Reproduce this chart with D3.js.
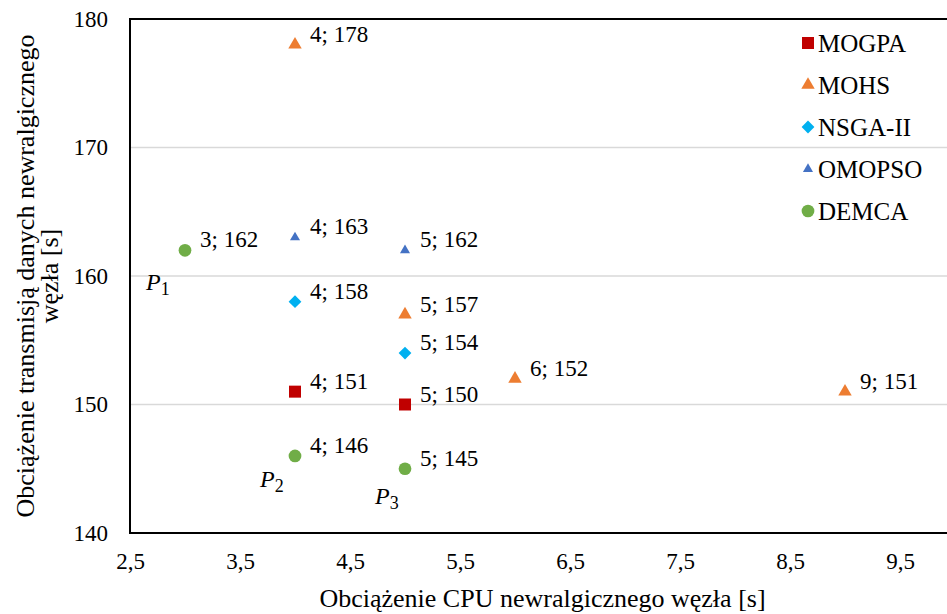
<!DOCTYPE html>
<html>
<head>
<meta charset="utf-8">
<script src="https://d3js.org/d3.v7.min.js"></script>
<style>
  body { margin: 0; background: #fff; }
  svg text { font-family: "Liberation Serif", "Times New Roman", serif !important; fill: #000; }
</style>
</head>
<body>
<div id="chart"></div>
<script>
// Data: [CPU load, transmission load]
const seriesNames = ["MOGPA", "MOHS", "NSGA-II", "OMOPSO", "DEMCA"];
const mogpa = [[4, 151], [5, 150]];
const mohs = [[4, 178], [5, 157], [6, 152], [9, 151]];
const nsga = [[4, 158], [5, 154]];
const omopso = [[4, 163], [5, 162]];
const demca = [[3, 162], [4, 146], [5, 145]];
const xTicks = [2.5, 3.5, 4.5, 5.5, 6.5, 7.5, 8.5, 9.5];
const yTicks = [140, 150, 160, 170, 180];
const pointNames = ["1", "2", "3"]; // P1..P3 mark the DEMCA points

const width = 947, height = 614;
const margin = { top: 19, right: -8, bottom: 80, left: 130 };

const svg = d3.select("#chart").append("svg")
    .attr("width", width)
    .attr("height", height);

const x = d3.scaleLinear().domain([2.5, 10]).range([margin.left, width - margin.right]);
const y = d3.scaleLinear().domain([140, 180]).range([height - margin.bottom - 1, margin.top]);

// gridlines
svg.append("g")
    .selectAll("line")
    .data(yTicks.slice(1, -1))
    .enter()
    .append("line")
    .attr("x1", x(2.5))
    .attr("x2", x(10))
    .attr("y1", d => y(d))
    .attr("y2", d => y(d))
    .attr("stroke", "#d9d9d9")
    .attr("stroke-width", 1.5);

// frame
svg.append("rect")
    .attr("x", x(2.5))
    .attr("y", y(180))
    .attr("width", x(10) - x(2.5))
    .attr("height", y(140) - y(180))
    .attr("fill", "none")
    .attr("stroke", "#000")
    .attr("stroke-width", 2);

const fontSize = 23;
const titleSize = 26;
const legendSize = 25;

// axes labels (no tick marks)
const xAxis = d3.axisBottom(x).tickValues(xTicks).tickSize(0).tickPadding(20)
    .tickFormat(d => String(d).replace(".", ","));
svg.append("g")
    .attr("transform", `translate(0, ${y(140)})`)
    .call(xAxis)
    .call(g => g.select(".domain").remove())
    .selectAll("text")
    .attr("font-size", fontSize);

const yAxis = d3.axisLeft(y).tickValues(yTicks).tickSize(0).tickPadding(22);
svg.append("g")
    .attr("transform", `translate(${x(2.5)}, 0)`)
    .call(yAxis)
    .call(g => g.select(".domain").remove())
    .selectAll("text")
    .attr("font-size", fontSize);

// axis titles
svg.append("text")
    .attr("x", (x(2.5) + x(10)) / 2)
    .attr("y", 607)
    .attr("text-anchor", "middle")
    .attr("font-size", titleSize)
    .text("Obciążenie CPU newralgicznego węzła [s]");

const yTitle = svg.append("text")
    .attr("transform", `translate(0, ${(y(140) + y(180)) / 2}) rotate(-90)`)
    .attr("text-anchor", "middle")
    .attr("font-size", titleSize);
yTitle.append("tspan").attr("x", 0).attr("y", 34).text("Obciążenie transmisją danych newralgicznego");
yTitle.append("tspan").attr("x", 0).attr("y", 58).text("węzła [s]");

// marker styles
const styles = {
    "MOGPA": { color: "#c00000", symbol: d3.symbolSquare, size: 144, rotate: 0 },
    "MOHS": { color: "#ed7d31", symbol: d3.symbolTriangle, size: 78, rotate: 0 },
    "NSGA-II": { color: "#00b0f0", symbol: d3.symbolSquare, size: 82, rotate: 45 },
    "OMOPSO": { color: "#4472c4", symbol: d3.symbolTriangle, size: 44, rotate: 0 },
    "DEMCA": { color: "#70ad47", symbol: d3.symbolCircle, size: 127, rotate: 0 }
};
const seriesData = [mogpa, mohs, nsga, omopso, demca];

seriesNames.forEach((name, i) => {
    const st = styles[name];
    const g = svg.append("g").attr("class", "series");
    g.selectAll("path")
        .data(seriesData[i])
        .enter()
        .append("path")
        .attr("d", d3.symbol().type(st.symbol).size(st.size))
        .attr("transform", d => `translate(${x(d[0])}, ${y(d[1])}) rotate(${st.rotate})`)
        .attr("fill", st.color);

    g.selectAll("text")
        .data(seriesData[i])
        .enter()
        .append("text")
        .attr("x", d => x(d[0]) + 15)
        .attr("y", d => y(d[1]) - 3)
        .attr("font-size", fontSize)
        .text(d => `${d[0]}; ${d[1]}`);
});

// P1..P3 annotations next to DEMCA points
const pOffsets = [[-39, 40], [-35, 31], [-30, 35]];
demca.forEach((d, i) => {
    const t = svg.append("text")
        .attr("x", x(d[0]) + pOffsets[i][0])
        .attr("y", y(d[1]) + pOffsets[i][1])
        .attr("font-size", 24);
    t.append("tspan").attr("font-style", "italic").text("P");
    t.append("tspan").attr("font-size", 18).attr("dy", 5).text(pointNames[i]);
});

// legend
const legend = svg.append("g").attr("transform", "translate(808, 43)");
seriesNames.forEach((name, i) => {
    const st = styles[name];
    const item = legend.append("g").attr("transform", `translate(0, ${i * 42})`);
    item.append("path")
        .attr("d", d3.symbol().type(st.symbol).size(st.size))
        .attr("transform", `rotate(${st.rotate})`)
        .attr("fill", st.color);
    item.append("text")
        .attr("x", 10)
        .attr("y", 9)
        .attr("font-size", legendSize)
        .text(name);
});
</script>
</body>
</html>
